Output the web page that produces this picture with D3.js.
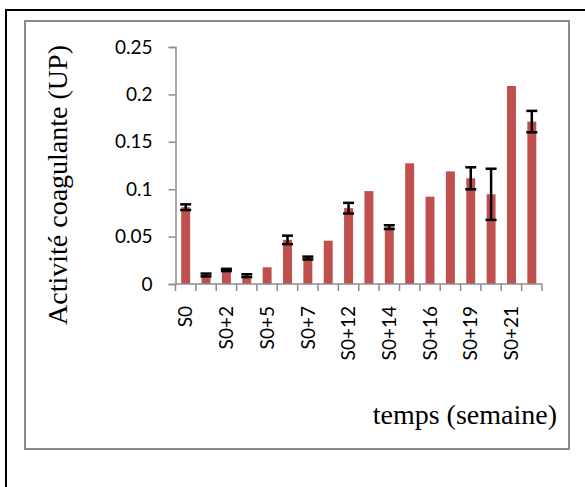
<!DOCTYPE html>
<html>
<head>
<meta charset="utf-8">
<script src="https://cdn.jsdelivr.net/npm/d3@7"></script>
<style>
  html, body { margin: 0; padding: 0; background: #fff; }
  svg { display: block; }
</style>
</head>
<body>
<svg id="chart" width="585" height="487"></svg>
<script>
// Weekly sampling points (only every other one is labelled on the axis)
const weeks = ["S0", "S0+1", "S0+2", "S0+4", "S0+5", "S0+6", "S0+7", "S0+10", "S0+12",
               "S0+13", "S0+14", "S0+15", "S0+16", "S0+18", "S0+19", "S0+20", "S0+21", "S0+22"];
// Coagulating activity (UP)
const activity = [0.081, 0.0095, 0.0148, 0.0088, 0.0176, 0.0465, 0.0274, 0.0457, 0.080,
                  0.098, 0.060, 0.1273, 0.0921, 0.1188, 0.1115, 0.0946, 0.2089, 0.1713];
// Standard deviation (null where no error bar is shown)
const deviation = [0.003, 0.0015, 0.0012, 0.0015, null, 0.0045, 0.0015, null, 0.0056,
                   null, 0.002, null, null, null, 0.0116, 0.027, null, 0.0113];
const yTicks = [0, 0.05, 0.1, 0.15, 0.2, 0.25];

const svg = d3.select("#chart");

// Outer black frame and inner grey chart-area frame
svg.append("rect").attr("x", 6).attr("y", 10).attr("width", 620).attr("height", 520)
  .attr("fill", "none").attr("stroke", "#000").attr("stroke-width", 2);
svg.append("rect").attr("x", 25).attr("y", 21).attr("width", 544).attr("height", 428)
  .attr("fill", "#fff").attr("stroke", "#8a8a8a").attr("stroke-width", 2);

const plot = { left: 175.5, right: 542, top: 47, bottom: 284 };

const x = d3.scaleBand().domain(weeks).range([plot.left, plot.right])
  .paddingInner(0.56).paddingOuter(0.28);
const y = d3.scaleLinear().domain([0, 0.25]).range([plot.bottom, plot.top]);

const axisColor = "#8c8c8c";
const tickFont = "Lato, 'Open Sans', sans-serif";

// Y axis
const yAxis = svg.append("g").attr("transform", `translate(${plot.left},0)`)
  .call(d3.axisLeft(y).tickValues(yTicks).tickSize(7).tickPadding(16)
    .tickFormat(d => d3.format("")(+d.toFixed(2))));
yAxis.select(".domain").attr("stroke", axisColor).attr("stroke-width", 1.5);
yAxis.selectAll(".tick line").attr("stroke", axisColor).attr("stroke-width", 1.5);
yAxis.selectAll(".tick text").attr("font-family", tickFont).attr("font-size", 19)
  .attr("fill", "#000");

// Bars
svg.append("g").selectAll("rect").data(activity).join("rect")
  .attr("x", (d, i) => x(weeks[i]))
  .attr("y", d => y(d))
  .attr("width", x.bandwidth())
  .attr("height", d => y(0) - y(d))
  .attr("fill", "#c0504d");

// Error bars
const eb = svg.append("g").attr("stroke", "#000").attr("stroke-width", 2.5);
activity.forEach((v, i) => {
  const e = deviation[i];
  if (e == null) return;
  const cx = x(weeks[i]) + x.bandwidth() / 2;
  const hw = 5.5;
  eb.append("line").attr("x1", cx).attr("x2", cx).attr("y1", y(v + e)).attr("y2", y(v - e));
  eb.append("line").attr("x1", cx - hw).attr("x2", cx + hw).attr("y1", y(v + e)).attr("y2", y(v + e));
  eb.append("line").attr("x1", cx - hw).attr("x2", cx + hw).attr("y1", y(v - e)).attr("y2", y(v - e));
});

// X axis: line with ticks on category boundaries
const xg = svg.append("g");
xg.append("line").attr("x1", plot.left).attr("x2", plot.right)
  .attr("y1", plot.bottom).attr("y2", plot.bottom)
  .attr("stroke", axisColor).attr("stroke-width", 1.5);
const bounds = d3.range(weeks.length + 1).map(i => plot.left + i * x.step());
xg.selectAll(".bt").data(bounds).join("line").attr("class", "bt")
  .attr("x1", d => d).attr("x2", d => d)
  .attr("y1", plot.bottom).attr("y2", plot.bottom + 7)
  .attr("stroke", axisColor).attr("stroke-width", 1.5);

// Category labels, every other week, rotated
const labelled = weeks.filter((d, i) => i % 2 === 0);
const xa = svg.append("g").attr("transform", `translate(0,${plot.bottom})`)
  .call(d3.axisBottom(x).tickValues(labelled).tickSize(0));
xa.select(".domain").remove();
xa.selectAll(".tick text")
  .attr("font-family", tickFont).attr("font-size", 19).attr("fill", "#000")
  .attr("text-anchor", "end")
  .attr("dy", "0.35em")
  .attr("transform", "translate(0,22) rotate(-90)")
  .attr("x", 0).attr("y", 0);

// Axis titles
svg.append("text")
  .attr("transform", "translate(67,185) rotate(-90)")
  .attr("text-anchor", "middle")
  .attr("font-family", "'Liberation Serif', 'Times New Roman', serif")
  .attr("font-size", 28).attr("fill", "#000")
  .text("Activité coagulante (UP)");
svg.append("text")
  .attr("x", 557).attr("y", 424)
  .attr("text-anchor", "end")
  .attr("font-family", "'Liberation Serif', 'Times New Roman', serif")
  .attr("font-size", 28).attr("fill", "#000")
  .text("temps (semaine)");
</script>
</body>
</html>
